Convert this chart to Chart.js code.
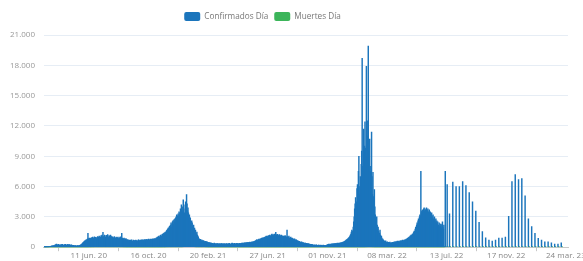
<!DOCTYPE html>
<html>
<head>
<meta charset="utf-8">
<script src="https://cdn.jsdelivr.net/npm/chart.js@4.4.1/dist/chart.umd.min.js"></script>
<style>
    html, body { margin: 0; padding: 0; background: #fff; }
</style>
</head>
<body>
<canvas id="casosChart" width="583" height="261"></canvas>
<script>
// Rango de fechas del eje (un dia por categoria)
const fechaInicio = '2020-03-08';
const fechaFin = '2023-03-28';

// Etiquetas visibles del eje X
const etiquetasEje = ['11 jun. 20', '16 oct. 20', '20 feb. 21', '27 jun. 21', '01 nov. 21',
    '08 mar. 22', '13 jul. 22', '17 nov. 22', '24 mar. 23'];
const mesesCortos = ['ene.', 'feb.', 'mar.', 'abr.', 'may.', 'jun.', 'jul.', 'ago.', 'sept.', 'oct.', 'nov.', 'dic.'];

// Escala Y
const ejeYMax = 21000;
const ejeYPaso = 3000;

// Confirmados diarios, desde el 08-03-2020 (una linea por mes)
const confirmados2020 = [
    1,2,7,6,14,16,8,25,17,28,23,32,48,60,50,97,116,115,130,118,140,150,117,160,
    200,250,160,300,250,190,210,280,220,240,170,160,230,260,210,250,280,190,170,200,240,270,290,220,180,210,250,270,230,200,
    250,230,210,180,200,240,190,170,150,190,160,140,120,150,130,100,110,140,160,130,120,150,170,180,200,230,260,300,350,420,480,
    500,560,620,580,650,720,680,760,800,1370,850,780,900,820,760,880,920,870,950,1000,880,830,950,1020,900,980,870,800,950,1000,
    1050,980,900,1100,950,880,1000,1150,1060,1200,1000,1470,940,1080,1200,1120,1000,950,1180,1050,1100,1250,1000,900,1150,1080,1000,1200,1100,950,1050,
    1000,900,850,950,1050,980,800,880,1000,920,950,900,1000,850,800,900,960,1020,880,750,1370,900,820,780,850,900,760,700,800,850,720,
    700,750,650,600,720,680,620,580,700,650,720,600,560,640,700,680,620,590,650,700,660,600,580,640,700,720,650,610,680,700,
    680,720,650,700,740,620,690,760,700,650,720,780,690,740,700,760,800,720,660,750,800,770,700,780,820,750,700,800,850,760,820,
    800,900,850,950,1000,920,1050,1100,980,1000,1150,1200,1050,1100,1250,1300,1200,1350,1400,1300,1450,1500,1400,1600,1700,1550,1800,1900,1700,2000,
    2100,1900,2200,2400,2000,2300,2500,2600,2300,2700,2500,2800,2400,2900,3000,3200,2800,3100,3300,3000,3500,3200,3400,3800,3000,4200,3600,3500,4000,4700,3800
];
const confirmados2021 = [
    3000,3400,4200,4500,3800,5200,4300,3600,3900,3400,3000,3200,2800,2900,2500,2300,2600,2400,2000,2100,2200,1800,1900,1600,1700,1400,1300,1500,1200,1100,1000,
    850,800,750,700,780,650,600,700,620,580,650,600,550,500,580,520,480,550,500,450,480,420,400,460,430,380,420,400,
    350,380,320,300,360,400,330,280,350,320,300,380,340,290,310,360,330,300,280,350,320,370,340,300,290,330,360,310,280,340,320,
    330,360,300,280,310,350,380,340,320,290,300,360,400,370,330,310,340,380,360,320,300,350,390,370,340,310,330,360,380,350,
    360,340,380,400,420,370,350,410,440,400,380,430,460,420,400,450,480,440,420,470,500,460,440,490,520,480,510,550,500,540,570,
    600,650,580,700,750,680,640,720,800,760,700,820,780,850,900,820,880,950,900,860,980,1000,920,1050,1100,1000,950,1080,1150,1050,
    1100,1200,1050,1150,1000,1250,1300,1150,1200,1100,1250,1300,1200,1150,1470,1250,1100,1200,1280,1150,1100,1200,1250,1180,1100,1050,1200,1150,1080,1000,1100,
    1050,1100,1000,1150,1080,950,1000,1700,1050,1000,950,1100,900,850,950,1000,880,820,900,850,780,800,750,820,700,680,750,700,650,620,600,
    600,550,580,520,480,500,450,520,480,420,400,450,380,350,400,420,360,330,380,350,300,320,350,280,300,260,290,250,280,260,
    250,220,180,200,230,190,170,210,240,200,180,160,190,220,200,170,150,180,210,190,160,140,170,200,180,150,170,190,160,140,180,
    200,250,220,280,300,260,240,310,290,270,330,300,280,350,320,300,360,340,310,380,350,330,400,370,340,420,390,360,430,400,
    420,450,400,480,500,460,520,550,600,580,650,700,750,680,800,850,900,950,1000,1100,1200,1300,1500,1700,1400,1600,2000,2500,3000,3800,4300
];
const confirmados2022 = [
    4900,3200,4500,5800,6200,5000,7500,9000,5200,6000,7000,6500,8200,9500,18700,8000,7500,11700,9500,10000,12400,9800,8500,17900,9000,11000,12500,19900,9500,7800,10700,
    8000,7500,6500,11400,7000,5200,7400,5000,4600,5700,4000,3200,2500,2700,3000,2200,1800,2000,1600,1300,1400,1700,1200,1000,1100,900,700,800,
    700,650,600,550,500,620,480,450,520,500,430,480,400,450,500,420,380,460,420,400,480,450,500,470,420,550,500,480,520,560,600,
    520,480,600,550,500,620,580,650,600,550,700,640,600,680,720,650,700,760,800,720,850,900,820,950,1000,900,1100,1050,1200,1150,
    1200,1300,1250,1400,1500,1600,1550,1800,2000,1900,2200,2400,2300,2600,2800,2500,3000,3200,3100,7500,3400,3600,3300,3700,3500,3800,3900,3600,3400,3700,3800,
    3900,3700,3600,3800,3500,3400,3700,3300,3500,3200,3000,3400,3100,2900,3200,2800,2600,3000,2700,2500,2800,2400,2600,2300,2500,2200,2100,2400,2000,2300,
    2100,2300,1900,2200,2500,2000,1800,2200
];

// Muertes diarias, mismo periodo
const muertes2020 = [
    0,0,0,1,0,0,0,0,1,0,1,0,1,2,1,2,3,3,2,5,4,3,5,6,
    4,6,5,8,5,4,6,7,5,6,4,3,5,6,4,7,5,4,6,3,4,5,3,2,4,3,2,3,4,3,
    3,2,4,3,2,3,2,4,3,2,3,5,4,3,4,2,3,4,5,4,3,6,5,4,6,5,7,6,8,7,9,
    10,12,9,14,11,13,10,15,12,14,16,13,15,18,12,17,14,19,16,15,18,20,17,19,22,18,21,20,19,23,
    22,25,20,24,27,23,21,26,28,24,22,27,25,23,29,26,24,28,27,25,23,26,24,22,25,27,23,21,24,22,20,
    22,19,21,18,24,20,17,22,19,21,18,20,16,19,22,18,15,17,20,16,18,14,17,15,13,16,14,12,15,13,11,
    12,10,13,11,9,12,10,11,9,12,10,8,11,9,10,12,8,9,11,10,8,9,12,10,8,11,9,10,8,9,
    9,11,8,10,12,9,11,10,8,12,10,9,11,13,10,8,12,11,9,10,13,11,9,12,10,8,11,12,10,9,11,
    10,12,11,9,13,12,10,14,11,12,15,13,11,14,12,16,13,15,14,12,16,18,15,17,16,19,18,17,20,19,
    20,22,19,24,21,23,25,22,27,24,26,28,25,30,27,32,29,31,34,30,36,33,38,35,40,37,42,39,45,41,48
];
const muertes2021 = [
    45,50,47,55,52,58,54,60,57,62,55,59,53,56,50,54,48,45,50,43,46,40,42,38,36,39,33,35,30,32,28,
    30,26,28,24,22,25,20,23,19,21,18,16,19,15,17,14,16,13,12,14,11,13,10,12,9,11,8,10,
    9,8,10,7,9,8,6,9,7,8,6,7,5,8,6,7,5,6,7,5,6,4,7,5,6,4,5,6,4,5,6,
    5,4,6,5,3,5,4,6,5,4,3,5,4,6,5,3,4,5,4,3,5,4,6,5,4,3,5,4,5,6,
    5,4,6,5,4,6,5,7,5,4,6,5,7,6,5,4,6,5,7,6,5,6,7,5,6,8,7,6,8,7,6,
    7,8,6,9,7,8,10,8,9,7,10,9,8,11,9,10,8,12,10,9,11,10,12,9,11,13,10,12,11,13,
    12,11,14,12,13,11,15,12,14,13,11,14,12,15,13,12,14,11,13,12,14,13,11,12,14,12,10,13,11,12,10,
    11,12,10,13,11,9,12,10,11,9,12,10,8,11,9,10,8,9,10,7,9,8,7,9,6,8,7,6,8,5,7,
    6,5,7,5,4,6,5,4,6,4,5,3,5,4,3,5,4,3,4,2,4,3,2,4,3,2,3,2,3,2,
    3,2,3,2,1,3,2,2,3,1,2,3,2,1,2,3,2,1,2,2,3,1,2,1,2,3,2,1,2,2,1,
    2,1,2,3,2,1,2,2,3,1,2,2,1,3,2,2,1,2,3,2,1,2,2,3,2,1,2,3,2,2,
    2,3,2,1,2,3,2,2,3,2,1,3,2,2,3,2,3,2,2,3,3,2,3,4,2,3,4,3,5,4,5
];
const muertes2022 = [
    6,5,7,6,8,9,7,10,8,11,9,12,10,13,11,14,12,15,13,16,14,17,15,18,16,19,17,20,18,16,17,
    18,16,19,15,17,14,16,13,15,12,14,11,13,10,12,9,11,8,10,7,9,6,8,5,7,6,5,4,
    5,4,3,4,3,2,3,4,2,3,2,3,1,2,3,2,1,2,2,1,2,3,1,2,1,2,2,1,2,1,2,
    1,2,1,1,2,1,2,1,1,2,1,1,2,1,1,2,1,2,1,1,2,1,1,2,1,2,1,1,2,1,
    1,2,1,2,2,1,2,2,3,2,2,3,2,3,3,2,3,4,3,4,3,4,5,4,3,5,4,5,4,5,6,
    5,6,5,7,6,5,7,6,8,6,7,5,6,7,8,6,7,6,5,7,6,5,6,7,5,6,5,4,6,5,
    5,4,6,5,4,5,4,5
];

// Desde julio 2022 los reportes son semanales
const fechasSemanal = ['2022-07-11', '2022-07-15', '2022-07-20', '2022-07-27', '2022-08-03', '2022-08-10',
    '2022-08-17', '2022-08-24', '2022-08-31', '2022-09-07', '2022-09-14', '2022-09-21', '2022-09-28',
    '2022-10-05', '2022-10-12', '2022-10-19', '2022-10-26', '2022-11-02', '2022-11-09', '2022-11-16',
    '2022-11-23', '2022-11-30', '2022-12-07', '2022-12-14', '2022-12-21', '2022-12-28', '2023-01-04',
    '2023-01-11', '2023-01-18', '2023-01-25', '2023-02-01', '2023-02-08', '2023-02-15', '2023-02-22',
    '2023-03-01', '2023-03-08', '2023-03-15'];
const confirmadosSemanal = [7500, 6200, 3300, 6440, 6000, 6000, 6500, 6100, 5400, 4500, 3570, 2450, 1540,
    930, 700, 600, 700, 900, 900, 1000, 3060, 6500, 7180, 6700, 6780, 5090, 2800, 2050, 1380, 870, 700,
    530, 530, 430, 300, 300, 430];
const muertesSemanal = [30, 28, 25, 35, 32, 30, 34, 31, 28, 26, 22, 18, 14, 10, 8, 7, 6, 7, 8, 9, 10, 14,
    20, 24, 22, 20, 15, 11, 8, 6, 5, 4, 4, 3, 3, 2, 3];

// Categorias: un dia cada una
const fechas = [];
const tInicio = Date.parse(fechaInicio + 'T00:00:00Z');
const tFin = Date.parse(fechaFin + 'T00:00:00Z');
for (let t = tInicio; t <= tFin; t += 86400000) {
    fechas.push(new Date(t).toISOString().slice(0, 10));
}

function armarSerie(diario, semanal) {
    const serie = fechas.map((f, i) => i < diario.length ? diario[i] : null);
    fechasSemanal.forEach((f, j) => {
        serie[fechas.indexOf(f)] = semanal[j];
    });
    return serie;
}

const confirmadosDia = armarSerie(confirmados2020.concat(confirmados2021, confirmados2022), confirmadosSemanal);
const muertesDia = armarSerie(muertes2020.concat(muertes2021, muertes2022), muertesSemanal);

function formatoFecha(iso) {
    const [a, m, d] = iso.split('-');
    return d + ' ' + mesesCortos[Number(m) - 1] + ' ' + a.slice(2);
}

function formatoMiles(v) {
    return String(v).replace(/\B(?=(\d{3})+(?!\d))/g, '.');
}

// Ajustes de la leyenda: algo de aire debajo y corrida a la izquierda como en el original
const espacioLeyenda = 4;
const desplazamientoLeyenda = -22;
const ajusteLeyenda = {
    id: 'ajusteLeyenda',
    beforeInit(chart) {
        const fitOriginal = chart.legend.fit;
        chart.legend.fit = function() {
            fitOriginal.call(this);
            this.height += espacioLeyenda;
        };
    },
    afterLayout(chart) {
        chart.legend.left += desplazamientoLeyenda;
        chart.legend.right += desplazamientoLeyenda;
    }
};

Chart.defaults.font.family = "'Open Sans', sans-serif";

const ctx = document.getElementById('casosChart').getContext('2d');
new Chart(ctx, {
    type: 'bar',
    data: {
        labels: fechas,
        datasets: [
            {
                label: 'Confirmados Día',
                data: confirmadosDia,
                backgroundColor: '#1b75bc',
                barThickness: 0.8
            },
            {
                label: 'Muertes Día',
                data: muertesDia,
                backgroundColor: '#3cb55a',
                barThickness: 0.8
            }
        ]
    },
    options: {
        responsive: false,
        animation: false,
        layout: {
            padding: { top: 6, left: 1, right: 15, bottom: -2 }
        },
        plugins: {
            legend: {
                position: 'top',
                labels: {
                    boxWidth: 16,
                    boxHeight: 9,
                    useBorderRadius: true,
                    borderRadius: 2,
                    padding: 6,
                    color: '#777',
                    font: { size: 8.2 }
                }
            },
            tooltip: { enabled: false }
        },
        scales: {
            x: {
                afterFit: function(scale) {
                    // la ultima etiqueta queda cortada en el borde, como en el original
                    scale.paddingRight = 0;
                },
                grid: {
                    drawOnChartArea: false,
                    drawTicks: true,
                    tickLength: 4,
                    color: '#c8c8c8'
                },
                border: { display: true, color: '#c8c8c8' },
                ticks: {
                    autoSkip: false,
                    maxRotation: 0,
                    minRotation: 0,
                    padding: 0,
                    color: '#888',
                    font: { size: 8 },
                    callback: function(value, index) {
                        const texto = formatoFecha(fechas[index]);
                        return etiquetasEje.includes(texto) ? texto : null;
                    }
                }
            },
            y: {
                min: 0,
                max: ejeYMax,
                grid: {
                    color: '#e6edf5',
                    drawTicks: false
                },
                border: { display: false },
                ticks: {
                    stepSize: ejeYPaso,
                    padding: 9,
                    color: '#999',
                    font: { size: 8 },
                    callback: function(value) {
                        return formatoMiles(value);
                    }
                }
            }
        }
    },
    plugins: [ajusteLeyenda]
});
</script>
</body>
</html>
